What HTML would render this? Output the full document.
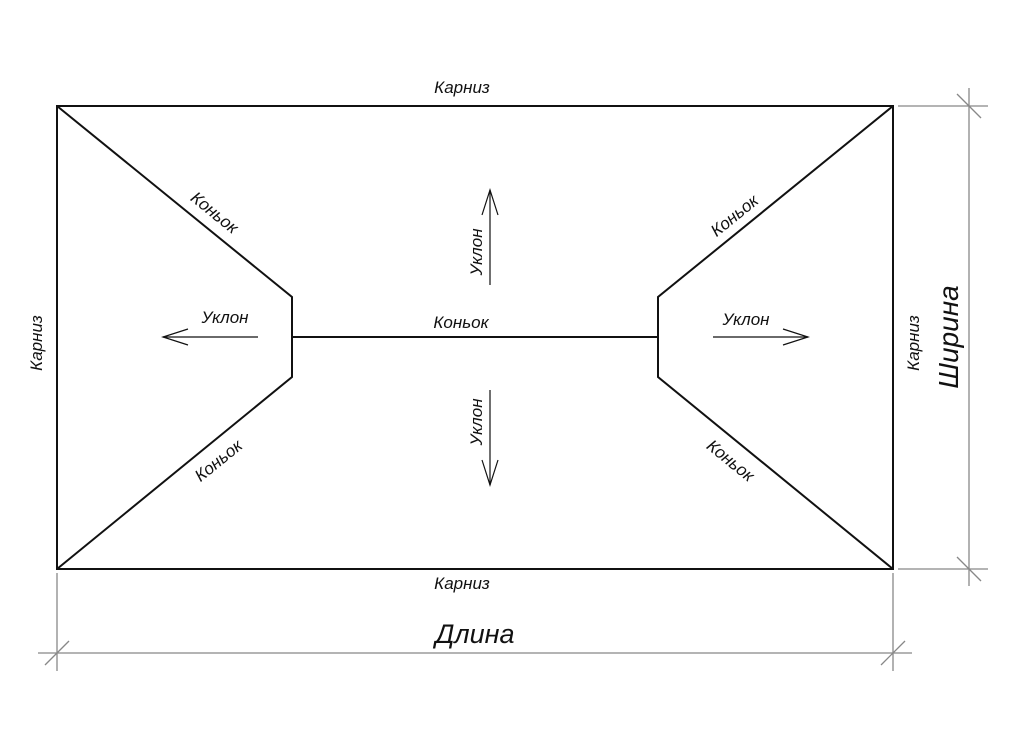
<!DOCTYPE html>
<html><head><meta charset="utf-8"><style>
html,body{margin:0;padding:0;background:#fff;}
svg text{font-family:"Liberation Sans","DejaVu Sans",sans-serif;font-style:italic;fill:#111;}
</style></head><body>
<svg width="1024" height="724" viewBox="0 0 1024 724" xmlns="http://www.w3.org/2000/svg">
<g stroke="#888" stroke-width="1.3" fill="none">
<line x1="898" y1="106" x2="988" y2="106"/>
<line x1="898" y1="569" x2="988" y2="569"/>
<line x1="969" y1="88" x2="969" y2="586"/>
<line x1="957" y1="94" x2="981" y2="118"/>
<line x1="957" y1="557" x2="981" y2="581"/>
<line x1="57" y1="573" x2="57" y2="671"/>
<line x1="893" y1="573" x2="893" y2="671"/>
<line x1="38" y1="653" x2="912" y2="653"/>
<line x1="45" y1="665" x2="69" y2="641"/>
<line x1="881" y1="665" x2="905" y2="641"/>
</g>
<g stroke="#111" stroke-width="2" fill="none">
<rect x="57" y="106" width="836" height="463"/>
<polyline points="57,106 292,297 292,377 57,569"/>
<polyline points="893,106 658,297 658,377 893,569"/>
<line x1="292" y1="337" x2="658" y2="337"/>
</g>
<g stroke="#111" stroke-width="1.2" fill="none">
<line x1="163" y1="337" x2="258" y2="337"/><polyline points="188,329 163,337 188,345"/>
<line x1="713" y1="337" x2="808" y2="337"/><polyline points="783,329 808,337 783,345"/>
<line x1="490" y1="190" x2="490" y2="285"/><polyline points="482,215 490,190 498,215"/>
<line x1="490" y1="390" x2="490" y2="485"/><polyline points="482,460 490,485 498,460"/>
</g>
<g font-size="17">
<text x="462" y="93" text-anchor="middle">Карниз</text>
<text x="462" y="589" text-anchor="middle">Карниз</text>
<text x="461" y="328" text-anchor="middle">Коньок</text>
<text x="225" y="323" text-anchor="middle">Уклон</text>
<text x="746" y="325" text-anchor="middle">Уклон</text>
<text transform="translate(42,343) rotate(-90)" text-anchor="middle">Карниз</text>
<text transform="translate(919,343) rotate(-90)" text-anchor="middle">Карниз</text>
<text transform="translate(482,252) rotate(-90)" text-anchor="middle">Уклон</text>
<text transform="translate(482,422) rotate(-90)" text-anchor="middle">Уклон</text>
<text transform="translate(211,217) rotate(39)" text-anchor="middle">Коньок</text>
<text transform="translate(222,465) rotate(-39)" text-anchor="middle">Коньок</text>
<text transform="translate(738,220) rotate(-39)" text-anchor="middle">Коньок</text>
<text transform="translate(727,465) rotate(39)" text-anchor="middle">Коньок</text>
</g>
<text x="475" y="643" text-anchor="middle" font-size="27">Длина</text>
<text transform="translate(958,337) rotate(-90)" text-anchor="middle" font-size="28">Ширина</text>
</svg>
</body></html>
